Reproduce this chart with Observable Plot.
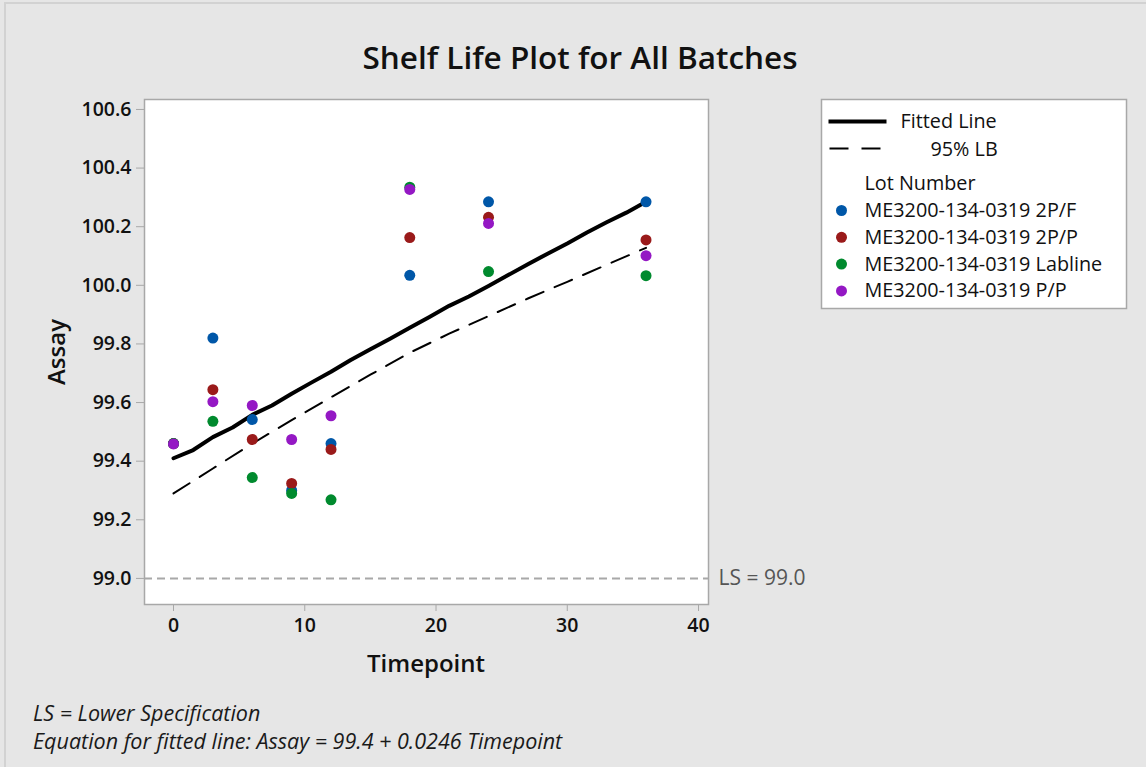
<!DOCTYPE html>
<html><head><meta charset="utf-8">
<script src="https://cdn.jsdelivr.net/npm/d3@7"></script>
<script src="https://cdn.jsdelivr.net/npm/@observablehq/plot@0.6"></script>
<style>
html,body{margin:0;padding:0;background:#e6e6e6;}
#wrap{position:relative;width:1146px;height:767px;overflow:hidden;background:#e6e6e6;font-family:"Open Sans",sans-serif;}
#wrap > svg{position:absolute;left:0;top:0;}
#overlay{pointer-events:none;}
</style></head>
<body><div id="wrap"></div>
<script>
// ---- data ----
const lots = ["ME3200-134-0319 2P/F", "ME3200-134-0319 2P/P", "ME3200-134-0319 Labline", "ME3200-134-0319 P/P"];
const lotColors = ["#0057a8", "#9a1a1a", "#008a2e", "#9418c4"];
const timepoints = [0, 3, 6, 9, 12, 18, 24, 36];
const assay2PF     = [99.46, 99.820, 99.542, 99.300, 99.460, 100.034, 100.285, 100.285];
const assay2PP     = [99.46, 99.644, 99.474, 99.324, 99.440, 100.163, 100.232, 100.155];
const assayLabline = [99.46, 99.536, 99.344, 99.290, 99.268, 100.335, 100.047, 100.033];
const assayPP      = [99.459, 99.603, 99.590, 99.474, 99.555, 100.327, 100.211, 100.101];

const fitTime  = [0, 1.5, 3, 4.5, 6, 7.5, 9, 10.5, 12, 13.5, 15, 16.5, 18, 19.5, 21, 22.5, 24, 25.5, 27, 28.5, 30, 31.5, 33, 34.5, 36];
const fitAssay = [99.41, 99.438, 99.482, 99.515, 99.558, 99.59, 99.630, 99.668, 99.705, 99.745, 99.782, 99.818, 99.855, 99.892, 99.930, 99.962, 99.998, 100.035, 100.072, 100.108, 100.143, 100.180, 100.215, 100.248, 100.285];
const lbTime   = [0, 3, 6, 9, 12, 15, 18, 21, 24, 27, 30, 33, 36];
const lbAssay  = [99.29, 99.375, 99.460, 99.540, 99.618, 99.695, 99.770, 99.835, 99.895, 99.955, 100.012, 100.070, 100.128];

const lsValue = 99.0;
const xTicks = [0, 10, 20, 30, 40];
const yTicks = [99.0, 99.2, 99.4, 99.6, 99.8, 100.0, 100.2, 100.4, 100.6];

// ---- tables ----
const seriesValues = [assay2PF, assay2PP, assayLabline, assayPP];
const points = [];
lots.forEach((lot, i) => timepoints.forEach((t, j) => points.push({lot, t, v: seriesValues[i][j]})));
const fit = fitTime.map((t, i) => ({t, v: fitAssay[i]}));
const lb = lbTime.map((t, i) => ({t, v: lbAssay[i]}));

const FONT = "Open Sans";
const chart = Plot.plot({
  width: 1146, height: 767,
  marginLeft: 144, marginRight: 438, marginTop: 99, marginBottom: 163,
  style: {background: "transparent", fontFamily: FONT, fontSize: "19px", color: "#111", overflow: "visible"},
  x: {domain: [-2.21, 40.76]},
  y: {domain: [98.911, 100.634]},
  color: {domain: lots, range: lotColors},
  marks: [
    Plot.frame({fill: "white", stroke: "#a8a8a8", strokeWidth: 1.5}),
    Plot.axisX({ticks: xTicks, tickSize: 7, tickPadding: 7, stroke: "#a8a8a8", fill: "#111", label: null, fontSize: 19.5, fontWeight: 600}),
    Plot.axisY({ticks: yTicks, tickFormat: d => d.toFixed(1), tickSize: 8, tickPadding: 5, stroke: "#a8a8a8", fill: "#111", label: null, fontSize: 19.5, fontWeight: 600}),
    Plot.ruleY([lsValue], {stroke: "#a8a8a8", strokeWidth: 2, strokeDasharray: "8,5"}),
    Plot.text([lsValue], {y: d => d, text: d => `LS = ${d.toFixed(1)}`, frameAnchor: "right", textAnchor: "start", dx: 10, fill: "#555", fontSize: 21}),
    Plot.line(lb, {x: "t", y: "v", stroke: "black", strokeWidth: 2, strokeDasharray: "19,12"}),
    Plot.line(fit, {x: "t", y: "v", stroke: "black", strokeWidth: 4, curve: "linear"}),
    Plot.dot(points, {x: "t", y: "v", fill: "lot", r: 5.5})
  ]
});
const wrap = document.getElementById("wrap");
wrap.appendChild(chart);

// ---- overlay: title, axis labels, legend, footer ----
const ns = "http://www.w3.org/2000/svg";
const ov = document.createElementNS(ns, "svg");
ov.setAttribute("id", "overlay");
ov.setAttribute("width", 1146); ov.setAttribute("height", 767);
ov.style.fontFamily = FONT;
wrap.appendChild(ov);
function el(tag, attrs, text) {
  const e = document.createElementNS(ns, tag);
  for (const k in attrs) e.setAttribute(k, attrs[k]);
  if (text != null) e.textContent = text;
  ov.appendChild(e); return e;
}
// outer border
el("rect", {x: 5, y: 3, width: 1150, height: 780, fill: "none", stroke: "#d2d2d2", "stroke-width": 2});
el("text", {x: 580, y: 69, "text-anchor": "middle", "font-size": 31.5, "font-weight": 600, fill: "#111"}, "Shelf Life Plot for All Batches");
el("text", {x: 426, y: 672, "text-anchor": "middle", "font-size": 24, "font-weight": 600, fill: "#111"}, "Timepoint");
el("text", {transform: "translate(65,352) rotate(-90)", "text-anchor": "middle", "font-size": 24, "font-weight": 600, fill: "#111"}, "Assay");
el("text", {x: 33, y: 721, "font-size": 21.5, "font-style": "italic", fill: "#1a1a1a"}, "LS = Lower Specification");
el("text", {x: 33, y: 749, "font-size": 21.5, "font-style": "italic", fill: "#1a1a1a"}, "Equation for fitted line: Assay = 99.4 + 0.0246 Timepoint");

// legend
const LX = 821.5, LY = 99.5;
const LF = 19.8;
el("rect", {x: LX, y: LY, width: 305, height: 209, fill: "white", stroke: "#a8a8a8", "stroke-width": 1.5});
el("line", {x1: LX + 7, x2: LX + 65, y1: LY + 22, y2: LY + 22, stroke: "black", "stroke-width": 4});
el("text", {x: LX + 79, y: LY + 28.5, "font-size": LF, fill: "#111"}, "Fitted Line");
el("line", {x1: LX + 8, x2: LX + 59, y1: LY + 49, y2: LY + 49, stroke: "black", "stroke-width": 2, "stroke-dasharray": "19,13"});
el("text", {x: LX + 109, y: LY + 56, "font-size": LF, fill: "#111"}, "95% LB");
el("text", {x: LX + 43, y: LY + 90, "font-size": LF, fill: "#111"}, "Lot Number");
lots.forEach((lot, i) => {
  const cy = LY + 111 + i * 26.8;
  el("circle", {cx: LX + 20, cy, r: 5.5, fill: lotColors[i]});
  el("text", {x: LX + 43, y: cy + 6.5, "font-size": LF, fill: "#111"}, lot);
});
</script>
</body></html>
